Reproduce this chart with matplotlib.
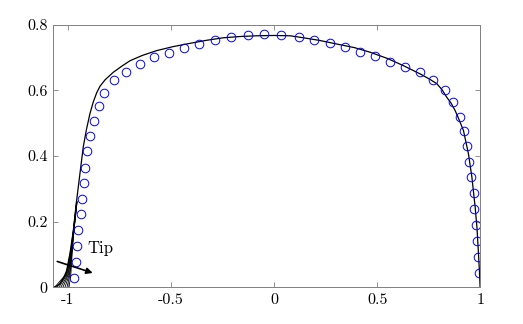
import numpy as np
import matplotlib
matplotlib.use("Agg")
import matplotlib.pyplot as plt

plt.rcParams['font.family'] = 'cmr10'
plt.rcParams['axes.unicode_minus'] = False
plt.rcParams['mathtext.fontset'] = 'cm'

# --- solid curve ---
curve_x = [-1.071, -1.055, -1.039, -1.023, -1.006, -0.990, -0.974, -0.958, -0.942,
           -0.926, -0.910, -0.893, -0.877, -0.861, -0.845, -0.820, -0.780, -0.740,
           -0.699, -0.640, -0.569, -0.490, -0.408, -0.330, -0.246, -0.160, -0.084,
           0.000, 0.078, 0.142, 0.220, 0.304, 0.390, 0.466, 0.550, 0.628, 0.709,
           0.760, 0.790, 0.815, 0.838, 0.860, 0.879, 0.895, 0.919, 0.943, 0.960,
           0.976, 0.985, 0.992, 0.997, 1.000]
curve_y = [0.000, 0.004, 0.011, 0.026, 0.052, 0.105, 0.173, 0.265, 0.346,
           0.427, 0.482, 0.530, 0.565, 0.592, 0.612, 0.632, 0.655, 0.673,
           0.690, 0.706, 0.721, 0.733, 0.743, 0.752, 0.760, 0.764, 0.766,
           0.767, 0.766, 0.760, 0.752, 0.741, 0.730, 0.716, 0.697, 0.675, 0.650,
           0.632, 0.620, 0.602, 0.579, 0.560, 0.538, 0.515, 0.478, 0.408, 0.336,
           0.244, 0.180, 0.103, 0.045, 0.000]

# --- family of curves near the tip ---
fan_y = [0.0, 0.04, 0.08, 0.12, 0.17, 0.22, 0.26]
fan_x = [
    [-1.065, -1.010, -0.996, -0.985, -0.975, -0.966, -0.959],
    [-1.055, -1.007, -0.994, -0.984, -0.974, -0.965, -0.958],
    [-1.045, -1.004, -0.992, -0.983, -0.974, -0.965, -0.958],
    [-1.035, -1.000, -0.990, -0.982, -0.973, -0.964, -0.957],
    [-1.025, -0.997, -0.988, -0.981, -0.973, -0.964, -0.957],
    [-1.015, -0.993, -0.986, -0.980, -0.972, -0.963, -0.957],
    [-1.005, -0.990, -0.984, -0.979, -0.972, -0.963, -0.956],
    [-0.995, -0.986, -0.982, -0.978, -0.971, -0.963, -0.956],
]

# --- circles ---
pts_x = [-0.971, -0.963, -0.955, -0.949, -0.939, -0.931, -0.923, -0.916, -0.906,
         -0.892, -0.874, -0.851, -0.824, -0.777, -0.718, -0.650, -0.581, -0.508,
         -0.435, -0.363, -0.285, -0.207, -0.128, -0.047, 0.035, 0.120, 0.196,
         0.270, 0.346, 0.417, 0.489, 0.562, 0.637, 0.706, 0.771, 0.828, 0.869,
         0.900, 0.921, 0.935, 0.947, 0.958, 0.969, 0.972, 0.981, 0.987, 0.992,
         0.997]
pts_y = [0.030, 0.077, 0.126, 0.174, 0.222, 0.270, 0.318, 0.365, 0.414,
         0.462, 0.507, 0.551, 0.593, 0.632, 0.657, 0.681, 0.700, 0.714,
         0.729, 0.742, 0.752, 0.761, 0.767, 0.770, 0.767, 0.763, 0.754,
         0.743, 0.731, 0.716, 0.703, 0.687, 0.671, 0.655, 0.632, 0.600, 0.563,
         0.520, 0.475, 0.429, 0.381, 0.335, 0.286, 0.238, 0.190, 0.142, 0.093,
         0.045]

xticks = [-1, -0.5, 0, 0.5, 1]
xtick_labels = ['-1', '-0.5', '0', '0.5', '1']
yticks = [0, 0.2, 0.4, 0.6, 0.8]
ytick_labels = ['0', '0.2', '0.4', '0.6', '0.8']

fig = plt.figure(figsize=(5.23, 3.24), dpi=100)
ax = fig.add_axes([0.102, 0.113, 0.816, 0.811])

for fx in fan_x:
    ax.plot(fx, fan_y, color='black', lw=0.6)
ax.plot(curve_x, curve_y, color='black', lw=0.9)
ax.plot(pts_x, pts_y, 'o', mfc='none', mec='blue', ms=6.2, mew=0.7)

ax.annotate('', xy=(-0.880, 0.044), xytext=(-1.052, 0.079),
            arrowprops=dict(arrowstyle='-|>', color='black', lw=1.2,
                            mutation_scale=9, shrinkA=0, shrinkB=0))
ax.text(-0.906, 0.119, 'Tip', fontsize=12, va='center', ha='left')

ax.set_xlim(-1.071, 1)
ax.set_ylim(0, 0.8)
ax.set_xticks(xticks)
ax.set_xticklabels(xtick_labels)
ax.set_yticks(yticks)
ax.set_yticklabels(ytick_labels)
ax.tick_params(direction='in', length=3.5, width=0.6, color='#808080',
               labelsize=11.5, top=True, right=True, pad=4)
for s in ax.spines.values():
    s.set_color('#808080')
    s.set_linewidth(0.7)

fig.savefig('out.png', dpi=100)
